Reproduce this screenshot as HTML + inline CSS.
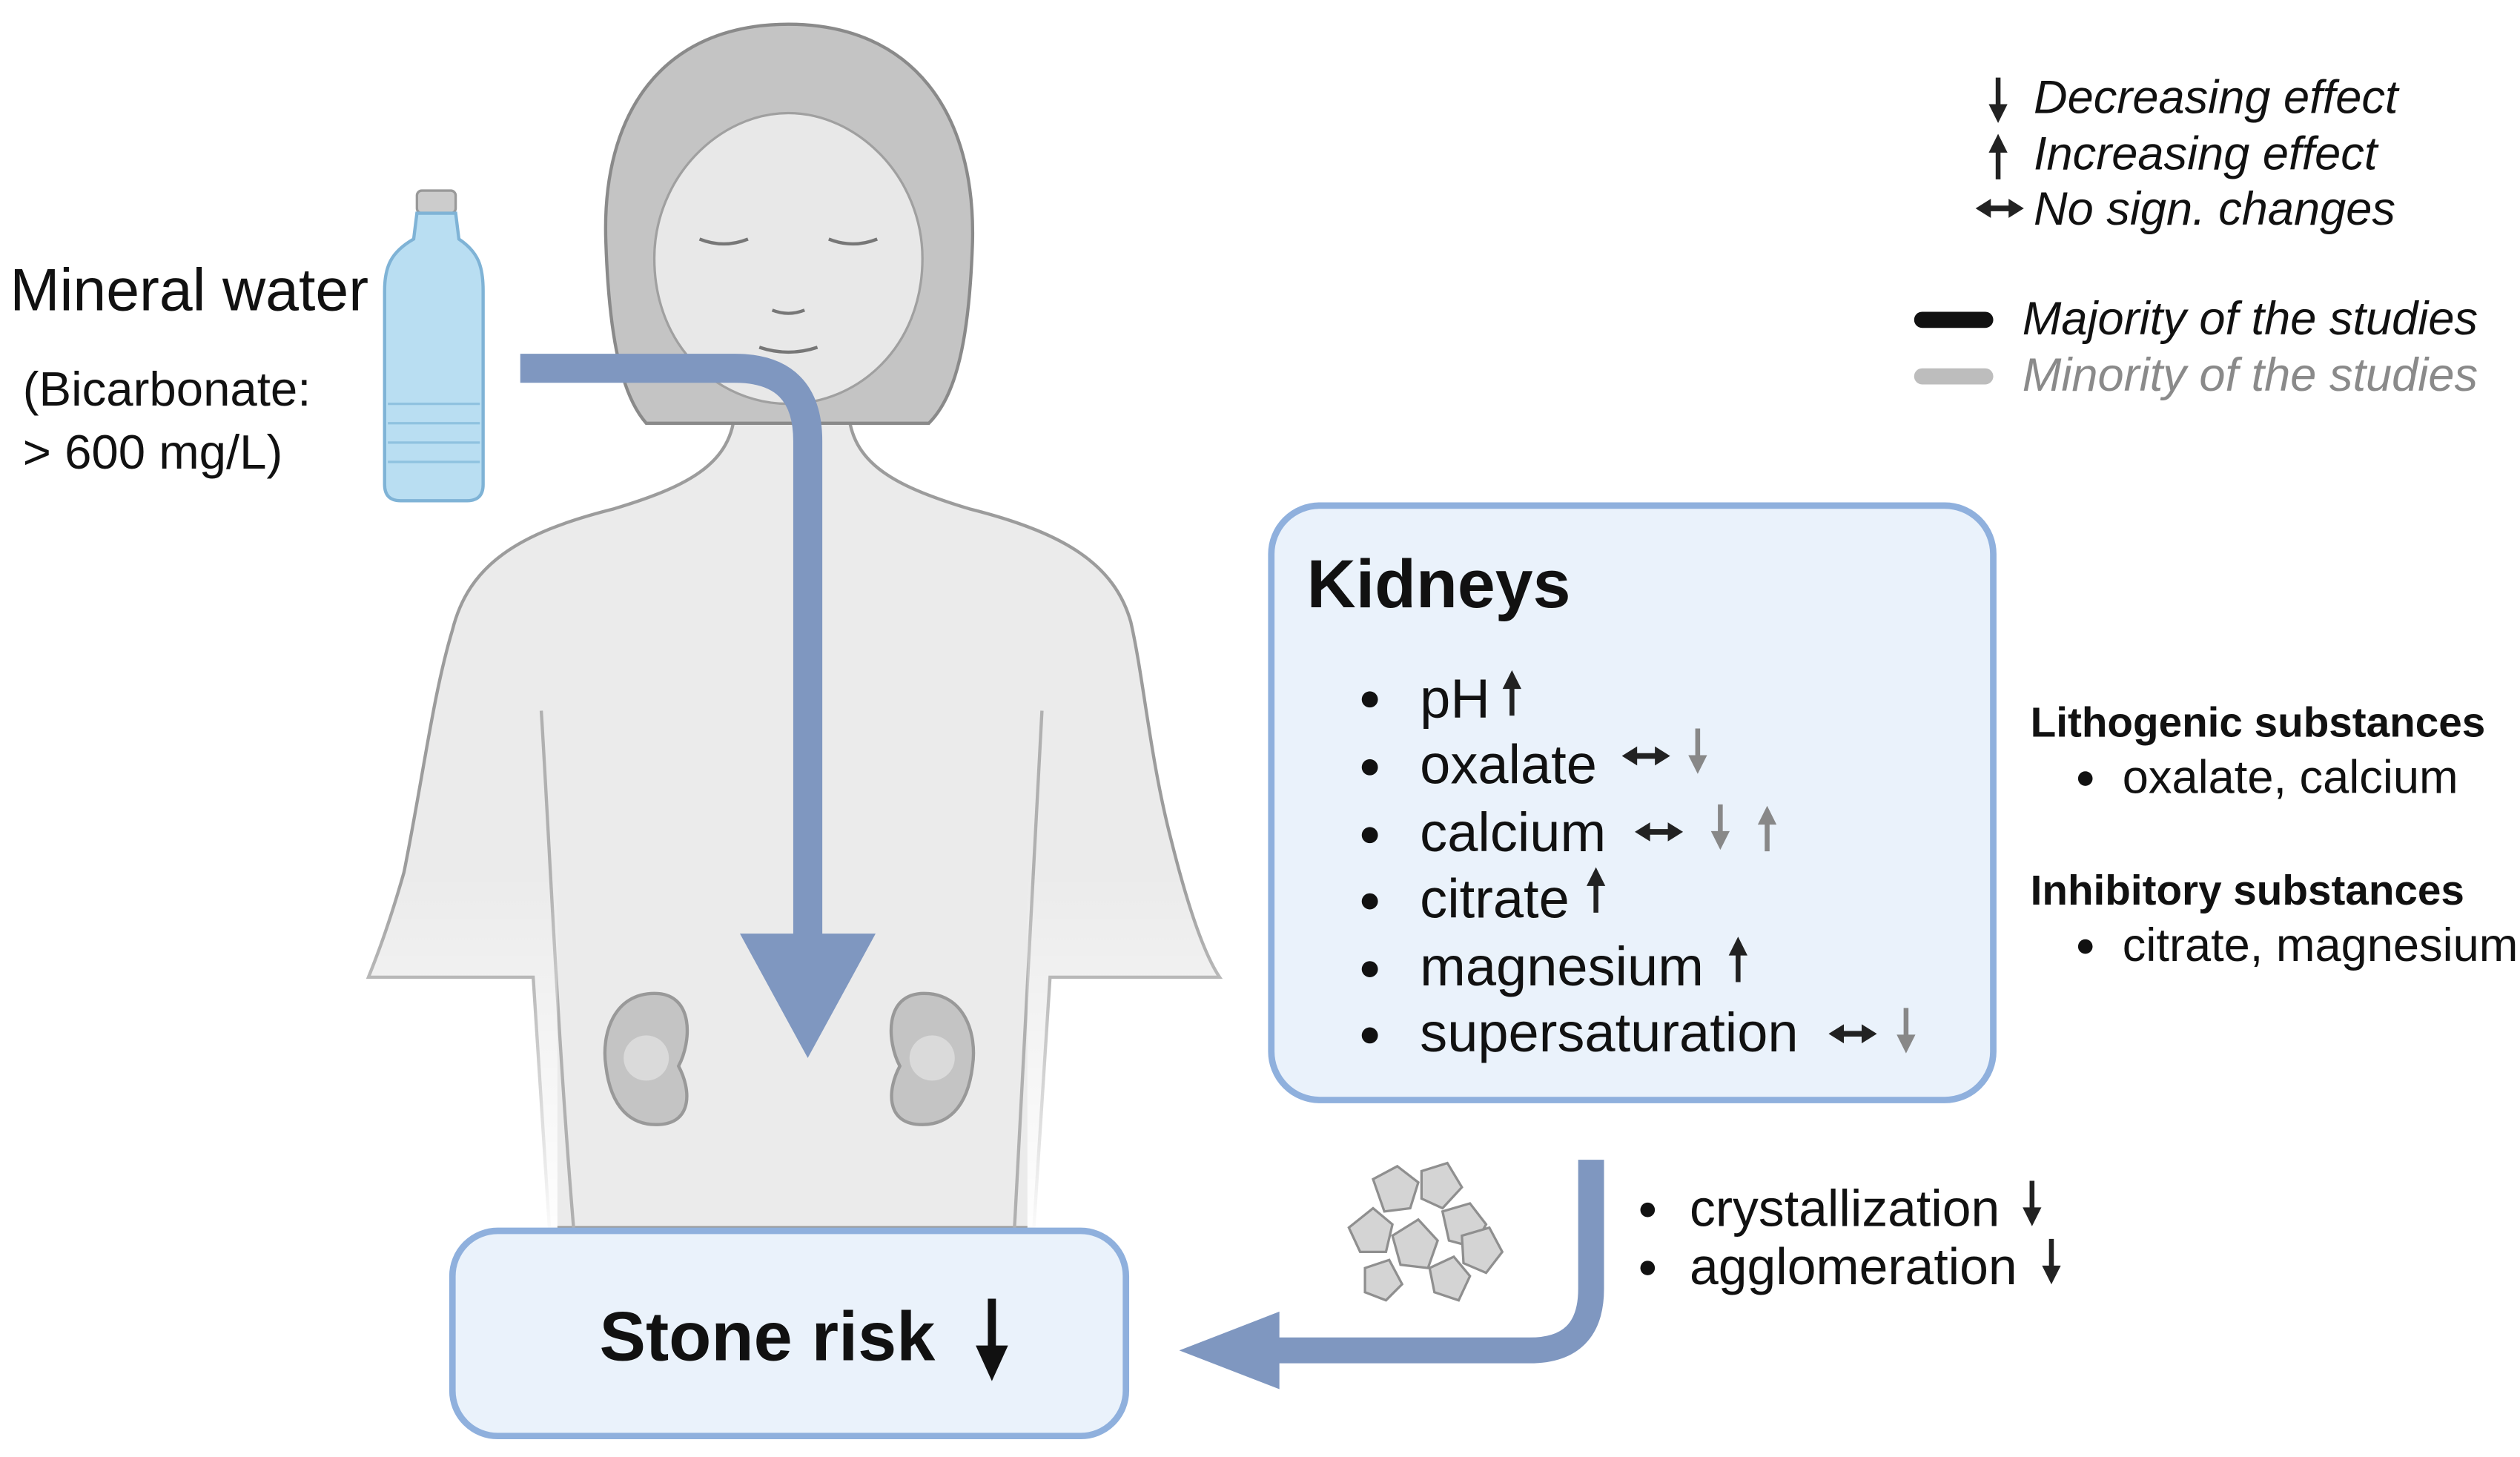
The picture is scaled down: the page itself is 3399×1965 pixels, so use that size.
<!DOCTYPE html>
<html><head><meta charset="utf-8"><style>
html,body{margin:0;padding:0;background:#fff;}
svg{display:block;}
text{font-family:"Liberation Sans",sans-serif;fill:#111;}
</style></head><body>
<svg width="3399" height="1965" viewBox="0 0 1560 902" xmlns="http://www.w3.org/2000/svg">
<defs>
<linearGradient id="fl" x1="0" y1="0" x2="0" y2="1">
<stop offset="0" stop-color="#fff" stop-opacity="0"/><stop offset="1" stop-color="#fff" stop-opacity="1"/></linearGradient>
<g id="up"><line x1="0" y1="27" x2="0" y2="8" stroke-width="3"/><polygon points="-5,10 5,10 0,0"/></g>
<g id="down"><line x1="0" y1="0" x2="0" y2="19" stroke-width="3"/><polygon points="-5,17 5,17 0,27"/></g>
<g id="lr"><line x1="6" y1="0" x2="22" y2="0" stroke-width="3.5"/><polygon points="0,0 8,-5 8,5"/><polygon points="28,0 20,-5 20,5"/></g>
</defs>

<!-- body -->
<path d="M455,250 C455,285 430,300 380,315 C320,330 290,350 280,390 C268,430 262,480 250,540 C240,575 232,595 228,605 L330,605 L340,760 L640,760 L650,605 L755,605 C745,590 735,560 725,520 C712,470 708,420 700,385 C690,350 660,330 600,315 C550,300 525,285 525,250 Z" fill="#ebebeb" stroke="#9c9c9c" stroke-width="2"/>
<path d="M335,440 C340,520 345,640 355,760 M645,440 C640,520 635,640 628,760" fill="none" stroke="#b0b0b0" stroke-width="2"/>
<rect x="220" y="540" width="125" height="230" fill="url(#fl)"/>
<rect x="636" y="540" width="130" height="230" fill="url(#fl)"/>
<!-- hair -->
<path d="M488,15 C410,15 372,70 375,150 C377,210 385,245 400,262 L575,262 C592,245 600,210 602,150 C604,70 565,15 488,15 Z" fill="#c4c4c4" stroke="#8a8a8a" stroke-width="2"/>
<path d="M488,70 C445,70 405,110 405,160 C405,215 445,250 488,250 C531,250 571,215 571,160 C571,110 531,70 488,70 Z" fill="#e8e8e8" stroke="#a0a0a0" stroke-width="1.5"/>
<path d="M405,130 C420,80 470,55 540,70 C520,60 480,55 455,65 C425,78 410,100 405,130 Z" fill="#c4c4c4"/>
<path d="M433,148 q15,6 30,0 M513,148 q15,6 30,0 M470,215 q18,6 36,0 M478,192 q10,4 20,0" fill="none" stroke="#777" stroke-width="2"/>
<!-- kidneys -->
<path d="M405,615 C380,615 372,640 375,660 C378,685 390,698 410,696 C428,694 428,675 420,660 C428,645 430,615 405,615 Z" fill="#c4c4c4" stroke="#999" stroke-width="2"/>
<path d="M572,615 C597,615 605,640 602,660 C599,685 587,698 567,696 C549,694 549,675 557,660 C549,645 547,615 572,615 Z" fill="#c4c4c4" stroke="#999" stroke-width="2"/>
<circle cx="400" cy="655" r="14" fill="#dadada"/><circle cx="577" cy="655" r="14" fill="#dadada"/>

<!-- bottle -->
<rect x="258" y="118" width="24" height="14" rx="3" fill="#ccc" stroke="#999" stroke-width="1.5"/>
<path d="M258,132 L282,132 L284,148 C296,156 299,165 299,180 L299,300 Q299,310 289,310 L248,310 Q238,310 238,300 L238,180 C238,165 242,156 256,148 Z" fill="#b9def2" stroke="#7fb3d6" stroke-width="2"/>
<path d="M240,250 H297 M240,262 H297 M240,274 H297 M240,286 H297" stroke="#8fc2e0" stroke-width="1.5"/>

<text x="6" y="192" font-size="37">Mineral water</text>
<text x="14" y="251" font-size="30">(Bicarbonate:</text>
<text x="14" y="290" font-size="30">&gt; 600 mg/L)</text>

<!-- big arrow -->
<path d="M322,228 H455 Q500,228 500,273 V585" fill="none" stroke="#7f97c0" stroke-width="18"/>
<polygon points="458,578 542,578 500,655" fill="#7f97c0"/>

<!-- kidneys box -->
<rect x="787" y="313" width="447" height="368" rx="30" fill="#eaf2fb" stroke="#8fb0dd" stroke-width="4"/>
<text x="809" y="376" font-size="42" font-weight="bold">Kidneys</text>
<g font-size="34">
<text x="879" y="444">pH</text>
<text x="879" y="485">oxalate</text>
<text x="879" y="527">calcium</text>
<text x="879" y="568">citrate</text>
<text x="879" y="610">magnesium</text>
<text x="879" y="651">supersaturation</text>
</g>
<g fill="#111"><circle cx="848" cy="433" r="5"/><circle cx="848" cy="475" r="5"/><circle cx="848" cy="517" r="5"/><circle cx="848" cy="558" r="5"/><circle cx="848" cy="600" r="5"/><circle cx="848" cy="641" r="5"/></g>
<g fill="#222" stroke="#222">
<use href="#up" x="936" y="416"/>
<use href="#lr" x="1005" y="468"/>
<use href="#lr" x="1013" y="515"/>
<use href="#up" x="988" y="538"/>
<use href="#up" x="1076" y="581"/>
<use href="#lr" x="1133" y="640"/>
</g>
<g fill="#888" stroke="#888">
<use href="#down" x="1051" y="451"/>
<use href="#down" x="1065" y="498"/>
<use href="#up" x="1094" y="500"/>
<use href="#down" x="1180" y="624"/>
</g>

<!-- right side text -->
<text x="1257" y="456" font-size="26" font-weight="bold">Lithogenic substances</text>
<circle cx="1291" cy="482" r="4.5" fill="#111"/>
<text x="1314" y="491" font-size="29">oxalate, calcium</text>
<text x="1257" y="560" font-size="26" font-weight="bold">Inhibitory substances</text>
<circle cx="1291" cy="586" r="4.5" fill="#111"/>
<text x="1314" y="595" font-size="29">citrate, magnesium</text>

<!-- legend -->
<g fill="#222" stroke="#222">
<use href="#down" x="1237" y="48"/>
<use href="#up" x="1237" y="84"/>
<use href="#lr" x="1224" y="129"/>
</g>
<g font-size="29" font-style="italic">
<text x="1259" y="70">Decreasing effect</text>
<text x="1259" y="105">Increasing effect</text>
<text x="1259" y="139">No sign. changes</text>
<text x="1252" y="207">Majority of the studies</text>
<text x="1252" y="242" style="fill:#8a8a8a">Minority of the studies</text>
</g>
<line x1="1190" y1="198" x2="1229" y2="198" stroke="#111" stroke-width="10" stroke-linecap="round"/>
<line x1="1190" y1="233" x2="1229" y2="233" stroke="#bdbdbd" stroke-width="10" stroke-linecap="round"/>

<!-- L arrow -->
<path d="M985,718 V798 Q985,836 947,836 H785" fill="none" stroke="#7f97c0" stroke-width="16"/>
<polygon points="792,812 792,860 730,836" fill="#7f97c0"/>

<!-- crystals -->
<g fill="#d4d4d4" stroke="#8f8f8f" stroke-width="1.5">
<polygon points="850,730 865,722 878,732 873,748 857,750"/>
<polygon points="880,725 896,720 905,735 893,748 880,742"/>
<polygon points="835,760 850,748 862,758 858,775 842,775"/>
<polygon points="862,765 878,755 890,768 884,785 867,783"/>
<polygon points="893,750 910,745 920,758 912,772 897,768"/>
<polygon points="905,765 922,760 930,775 920,788 906,782"/>
<polygon points="845,785 860,780 868,795 858,805 845,800"/>
<polygon points="885,785 900,778 910,790 903,805 888,800"/>
</g>

<circle cx="1020" cy="749" r="4.5" fill="#111"/>
<text x="1046" y="759" font-size="32">crystallization</text>
<circle cx="1020" cy="785" r="4.5" fill="#111"/>
<text x="1046" y="795" font-size="32">agglomeration</text>
<g fill="#222" stroke="#222">
<use href="#down" x="1258" y="731"/>
<use href="#down" x="1270" y="767"/>
</g>

<!-- stone risk -->
<rect x="280" y="762" width="417" height="127" rx="28" fill="#eaf2fb" stroke="#8fb0dd" stroke-width="4"/>
<text x="371" y="842" font-size="43" font-weight="bold">Stone risk</text>
<line x1="614" y1="804" x2="614" y2="837" stroke="#111" stroke-width="5"/>
<polygon points="604,833 624,833 614,855" fill="#111"/>
</svg>
</body></html>
